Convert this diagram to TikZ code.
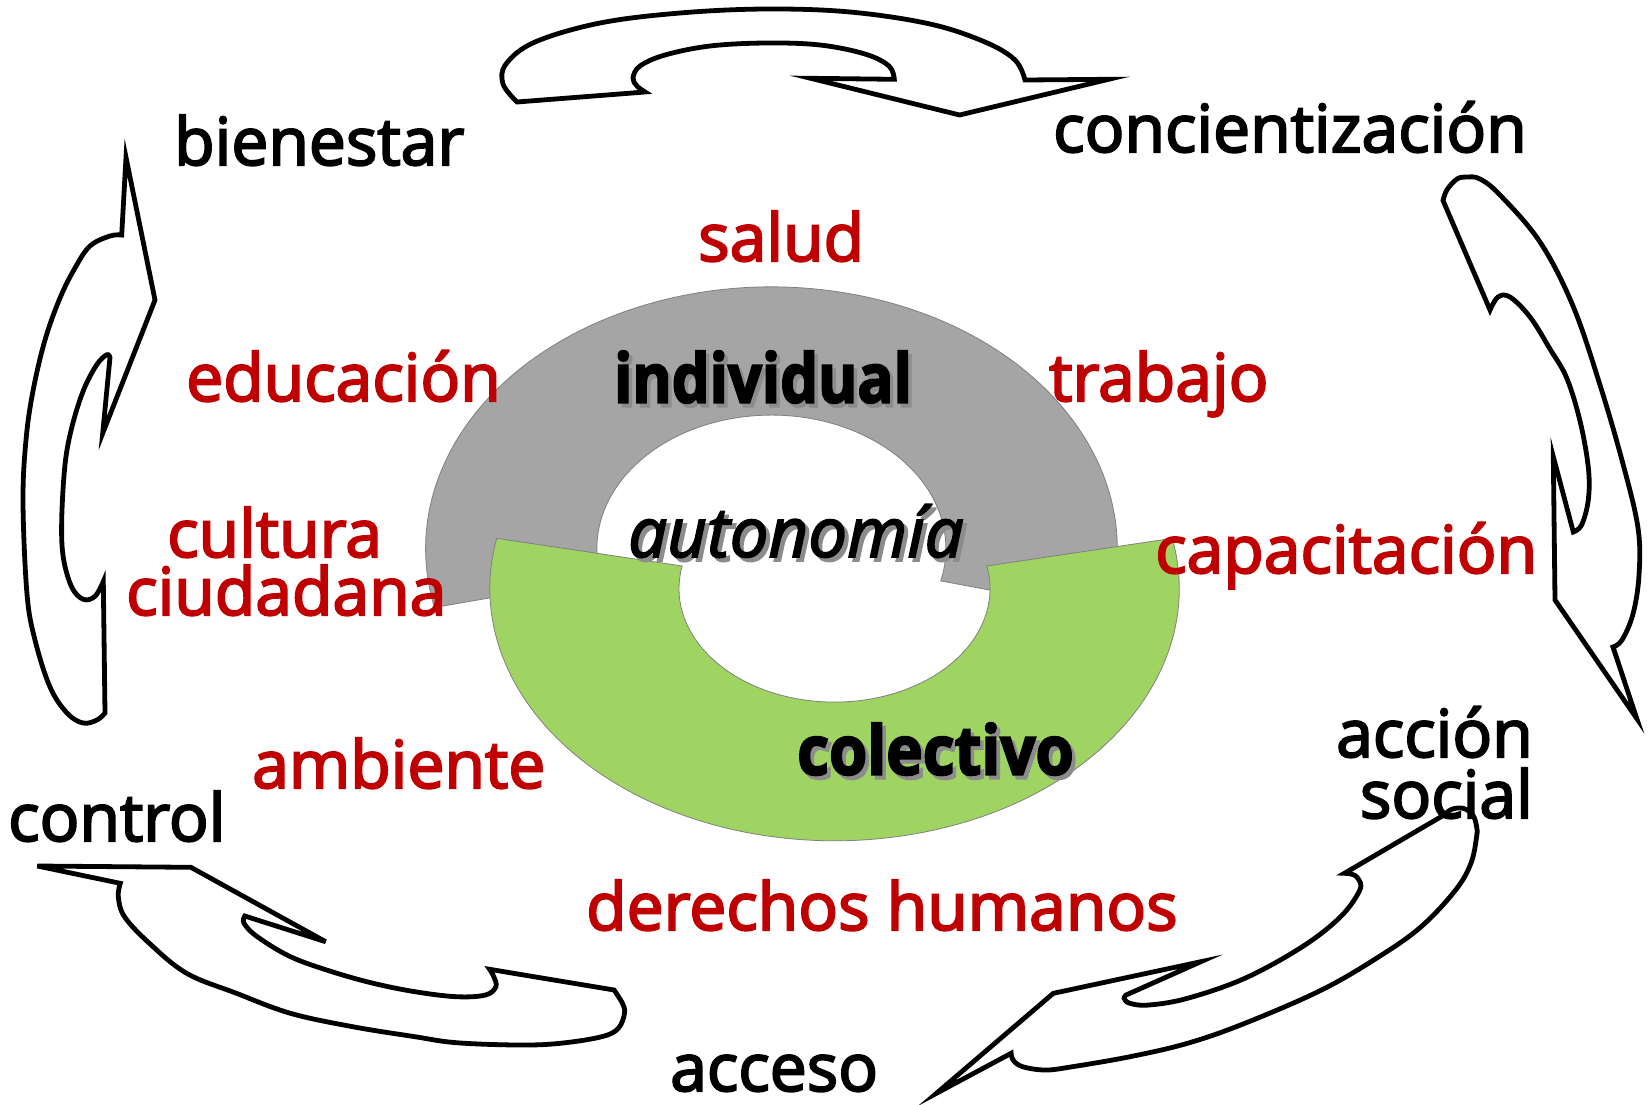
\documentclass[tikz,border=0pt]{standalone}
\usepackage{fontspec}
\setmainfont{Open Sans}[UprightFeatures={FakeBold=3}, ItalicFeatures={FakeBold=2.5}, BoldFeatures={FakeBold=3}]
\definecolor{topicred}{RGB}{192,0,0}
\definecolor{ringgrey}{RGB}{165,165,165}
\definecolor{ringgreen}{RGB}{160,212,98}
\newcommand{\shadowed}[1]{\makebox[0pt][l]{\hspace{4pt}\raisebox{-4pt}{\textcolor{black!45}{#1}}}#1}

\begin{document}
\begin{tikzpicture}[x=1pt, y=-1pt,
    word/.style={anchor=base west, inner sep=0pt, font=\fontsize{66}{66}\selectfont},
    stage/.style={word, text=black},
    topic/.style={word, text=topicred},
    level/.style={anchor=base west, inner sep=0pt, font=\fontsize{68}{68}\selectfont\bfseries},
    bandarrow/.style={draw=black, fill=white, line width=4.8pt, line join=miter},
    ringpart/.style={draw=black!50, line width=0.8pt}]

\useasboundingbox (0,0) rectangle (1648,1104);

% centres of the two half rings
\coordinate (gc) at (771.4,548.6);
\coordinate (ec) at (834.5,588.6);
\path (gc) ++(-14:345.8pt and 261.7pt) coordinate (gout);
\path (gc) ++(193:174.5pt and 133.5pt) coordinate (gin);
\path (ec) ++(11.5:344.7pt and 252.2pt) coordinate (eout);
\path (ec) ++(-191.5:155.5pt and 113.5pt) coordinate (ein);

\filldraw[ringpart, fill=ringgrey] (gout)
    arc[start angle=-14, end angle=193, x radius=345.8pt, y radius=261.7pt]
    -- (gin) arc[start angle=193, end angle=-14, x radius=174.5pt, y radius=133.5pt] -- cycle;
\filldraw[ringpart, fill=ringgreen] (eout)
    arc[start angle=11.5, end angle=-191.5, x radius=344.7pt, y radius=252.2pt]
    -- (ein) arc[start angle=-191.5, end angle=11.5, x radius=155.5pt, y radius=113.5pt] -- cycle;

% curved block arrows
\draw[bandarrow] plot[smooth, tension=0.6] coordinates {(517,102) (503,84) (506,64) (535,42) (600,23) (680,13) (766,9) (850,12) (930,24) (985,42) (1015,60) (1025,80)}
    -- (1108.6,79.3) -- (959.6,115) -- (810.6,78.3)
    -- plot[smooth, tension=0.6] coordinates {(894.3,79.3) (889,66) (865,54) (820,45) (766,43) (710,46) (665,55) (640,66) (633,78) (637,86) (645,92)}
    -- cycle;
\draw[bandarrow] plot[smooth, tension=0.6] coordinates {(1443,200.5) (1447,189.7) (1457,179) (1467,177) (1480,179) (1500,195) (1540,242) (1573,306) (1600,385) (1623,464) (1638,528) (1639,575) (1633,614) (1622,640) (1613,647)}
    -- (1636.7,718.4) -- (1555,600) -- (1553.3,456.7)
    -- plot[smooth, tension=0.6] coordinates {(1573.3,532) (1581.7,524.8) (1588.3,499.7) (1588.3,467.5) (1580,421) (1566.7,378) (1550,349) (1530,317) (1510,297) (1498,297) (1490,310)}
    -- cycle;
\draw[bandarrow] plot[smooth, tension=0.6] coordinates {(1444,815) (1451.7,809.3) (1463.2,808.3) (1472.8,815) (1476.6,826.7) (1476.6,836.7) (1470.9,863.3) (1455.6,890) (1421.1,926.7) (1378.9,956.7) (1321.5,990) (1244.8,1023.3) (1187.4,1043.3) (1129.9,1056.7) (1072.4,1066.7) (1045.6,1070) (1022.6,1066.7) (1013,1060) (1011.1,1053.3)}
    -- (936.4,1093.3) -- (1053.3,993.3) -- (1200.8,961.7)
    -- plot[smooth, tension=0.6] coordinates {(1126,995) (1124.1,998.3) (1129.9,1003.3) (1149,1005) (1187.4,998.3) (1244.8,978.3) (1302.3,946.7) (1340.6,916.7) (1359.8,890) (1357.9,878.3) (1352.1,874.3) (1344.4,873.3)}
    -- cycle;
\draw[bandarrow] plot[smooth, tension=0.6] coordinates {(614.1,990) (622.4,1003.3) (624.5,1013.3) (618.3,1028.3) (601.7,1036.7) (560.2,1043.3) (518.7,1045) (456.4,1042.7) (415,1036.7) (352.7,1026.7) (290.5,1013.3) (236.5,993.3) (186.7,973.3) (149.4,943.3) (124.5,916.7) (118.3,896.7) (120.3,883.3)}
    -- (37.3,866) -- (190.9,867.3) -- (325.7,941.7)
    -- plot[smooth, tension=0.6] coordinates {(244.8,916) (244,923.3) (257.3,936.7) (290.5,956.7) (332,971.7) (373.4,983.3) (415,991.7) (456.4,996.7) (485.5,995) (495.9,986.7) (493.8,976.7) (489.6,969.3)}
    -- cycle;
\draw[bandarrow] plot[smooth, tension=0.6] coordinates {(105,713) (97,720) (83,723) (67,713) (50,687) (35,640) (27,594) (23,502) (26,440) (33,391) (45,340) (60,298) (75,268) (90,246) (110,236) (121.7,235)}
    -- (126,157.4) -- (155,300) -- (102.7,433.3)
    -- plot[smooth, tension=0.6] coordinates {(110,357.4) (106.7,354.8) (96.7,364.8) (83.3,390.7) (71.7,427.8) (65,464.8) (61.7,520.4) (63.3,557.4) (71.7,587) (83.3,599.3) (95,596.3) (103.3,581.5)}
    -- cycle;

% stages round the cycle
\node[stage] (bien) at (174,165) {bienestar};
\node[stage] (conc) at (1053,152) {concientización};
\node[stage, anchor=base east] (acci) at (1533,757) {acción};
\node[stage, anchor=base east] (soci) at (1533,818) {social};
\node[stage] (acce) at (670,1091) {acceso};
\node[stage] (cont) at (8,841) {control};

% topics
\node[topic] (salud) at (698,261) {salud};
\node[topic] (educ) at (186,401) {educación};
\node[topic] (trab) at (1049,401) {trabajo};
\node[topic] (cult) at (167,557) {cultura};
\node[topic] (ciud) at (126,615) {ciudadana};
\node[topic] (capa) at (1155,573) {capacitación};
\node[topic] (ambi) at (252,788) {ambiente};
\node[topic] (dere) at (586,930) {derechos humanos};

% ring labels with shadow
\node[level] (indiv) at (614,402.5) {\scalebox{0.88}[1]{\shadowed{individual}}};
\node[level] (colec) at (797,774.6) {\scalebox{0.91}[1]{\shadowed{colectivo}}};
\node[word, font=\fontsize{69}{69}\selectfont\itshape] (auto) at (628,557) {\shadowed{autonomía}};

\end{tikzpicture}
\end{document}
